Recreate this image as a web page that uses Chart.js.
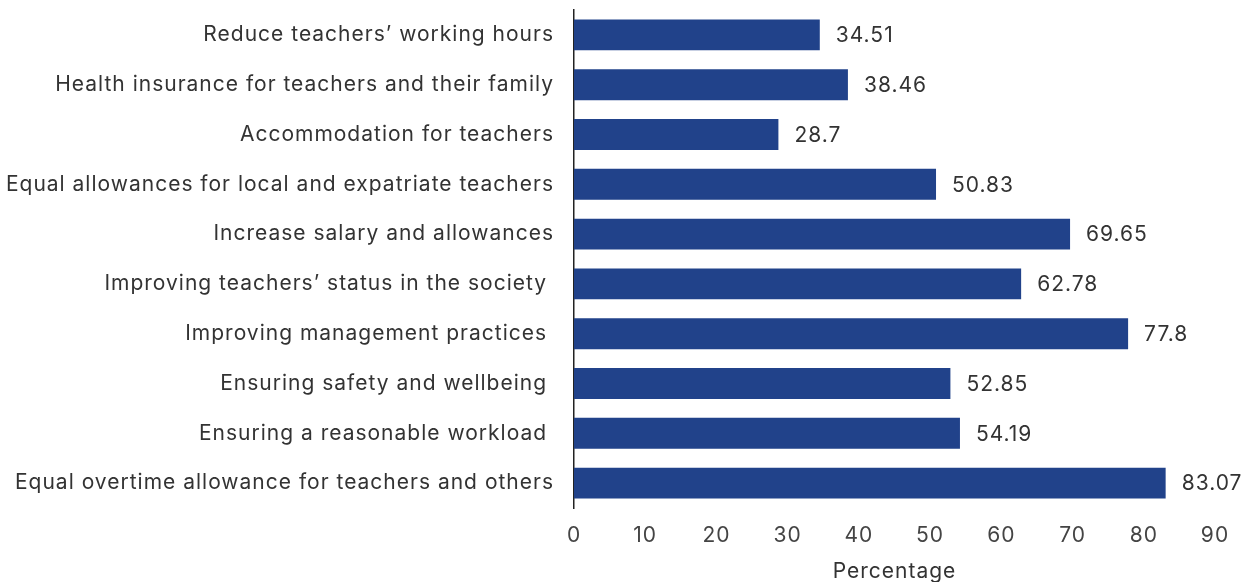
<!DOCTYPE html>
<html>
<head>
<meta charset="utf-8">
<script src="https://cdn.jsdelivr.net/npm/chart.js@4"></script>
<style>
  html, body { margin: 0; padding: 0; background: #fff; }
  #wrap { width: 1250px; height: 582px; }
</style>
</head>
<body>
<div id="wrap"><canvas id="chart-measures"></canvas></div>
<script>
const BAR_COLOR = '#21428a';
const TEXT_COLOR = '#333333';
const FONT = "'Inter', 'Open Sans', sans-serif";
const FONT_SIZE = 21;
const SPACING = '1px';

const measures = [
  'Reduce teachers’ working hours',
  'Health insurance for teachers and their family',
  'Accommodation for teachers',
  'Equal allowances for local and expatriate teachers',
  'Increase salary and allowances',
  'Improving teachers’ status in the society ',
  'Improving management practices ',
  'Ensuring safety and wellbeing ',
  'Ensuring a reasonable workload ',
  'Equal overtime allowance for teachers and others',
];
const percentages = [34.51, 38.46, 28.7, 50.83, 69.65, 62.78, 77.8, 52.85, 54.19, 83.07];
const xTicks = [0, 10, 20, 30, 40, 50, 60, 70, 80, 90];

// wider tracking on all canvas text (resizing resets the context, so set it each pass)
const tracking = {
  id: 'tracking',
  beforeLayout(chart) { chart.ctx.letterSpacing = SPACING; },
  beforeDraw(chart) { chart.ctx.letterSpacing = SPACING; },
};

// writes each value just past the end of its bar
const valueLabels = {
  id: 'valueLabels',
  afterDatasetsDraw(chart) {
    const { ctx } = chart;
    const meta = chart.getDatasetMeta(0);
    ctx.save();
    ctx.font = `${FONT_SIZE}px ${FONT}`;
    ctx.fillStyle = TEXT_COLOR;
    ctx.textBaseline = 'middle';
    ctx.textAlign = 'left';
    meta.data.forEach((bar, i) => {
      ctx.fillText(String(percentages[i]), bar.x + 16, bar.y + 1);
    });
    ctx.restore();
  },
};

new Chart(document.getElementById('chart-measures'), {
  type: 'bar',
  data: {
    labels: measures,
    datasets: [{
      data: percentages,
      backgroundColor: BAR_COLOR,
      borderWidth: 0,
      barPercentage: 0.62,
      categoryPercentage: 1,
    }],
  },
  options: {
    indexAxis: 'y',
    responsive: true,
    maintainAspectRatio: false,
    animation: false,
    layout: { padding: { top: 10, right: 35, bottom: 0, left: 0 } },
    plugins: { legend: { display: false }, tooltip: { enabled: false } },
    scales: {
      x: {
        min: 0,
        max: 90,
        afterBuildTicks: scale => { scale.ticks = xTicks.map(v => ({ value: v })); },
        afterFit: scale => { scale.height = 74; },
        grid: { display: false, drawTicks: false },
        border: { display: false },
        ticks: { color: '#444', font: { family: FONT, size: FONT_SIZE }, padding: 15 },
        title: {
          display: true,
          text: 'Percentage',
          color: TEXT_COLOR,
          font: { family: FONT, size: FONT_SIZE },
          padding: { top: 8, bottom: -2 },
        },
      },
      y: {
        afterFit: scale => {
          scale.width = 574;
          scale.paddingTop = 0;
          scale.paddingBottom = 0;
        },
        grid: { display: false, drawTicks: false },
        border: { display: true, color: '#222', width: 1.5 },
        ticks: { color: TEXT_COLOR, font: { family: FONT, size: FONT_SIZE }, padding: 20 },
      },
    },
  },
  plugins: [tracking, valueLabels],
});
</script>
</body>
</html>
